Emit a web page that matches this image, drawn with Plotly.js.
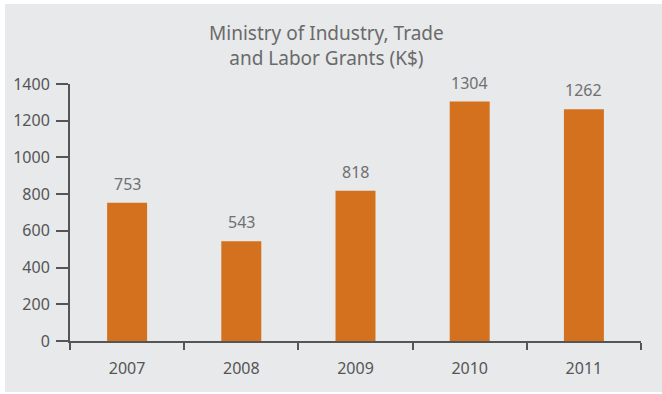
<!DOCTYPE html>
<html>
<head>
<meta charset="utf-8">
<script src="https://cdn.plot.ly/plotly-3.0.1.min.js"></script>
<style>
html,body{margin:0;padding:0;background:#ffffff;}
#chart{position:absolute;left:5px;top:4px;width:657px;height:388px;}
</style>
</head>
<body>
<div id="chart"></div>
<script>
const years = ["2007", "2008", "2009", "2010", "2011"];
const grants = [753, 543, 818, 1304, 1262];
const yTicks = [0, 200, 400, 600, 800, 1000, 1200, 1400];
const titleText = "Ministry of Industry, Trade<br>and Labor Grants (K$)";

const FONT = "Noto Sans, Open Sans, DejaVu Sans, sans-serif";

const trace = {
  type: "bar",
  x: years,
  y: grants,
  width: 0.35,
  marker: {color: "#d4711f", line: {width: 0}},
  hoverinfo: "skip"
};

const annotations = years.map((yr, i) => ({
  x: i, y: grants[i], xref: "x", yref: "y",
  text: String(grants[i]), showarrow: false,
  yanchor: "middle", yshift: 19,
  font: {family: FONT, size: 16, color: "#707070"}
}));

annotations.push({
  x: 0.45, y: 1.148, xref: "paper", yref: "paper",
  xanchor: "center", yanchor: "middle",
  text: titleText, showarrow: false,
  font: {family: FONT, size: 19, color: "#6a6a6a"}
});

const layout = {
  width: 657, height: 388,
  margin: {l: 65, r: 21, t: 80, b: 51},
  paper_bgcolor: "#e7e9eb",
  plot_bgcolor: "#e7e9eb",
  showlegend: false,
  xaxis: {
    type: "category",
    range: [-0.5, 4.5],
    showline: true, linecolor: "#555555", linewidth: 2,
    ticks: "outside", tickson: "boundaries", ticklen: 7, tickwidth: 2, tickcolor: "#555555",
    tickfont: {family: FONT, size: 16, color: "#555555"},
    ticklabelstandoff: 12,
    showgrid: false, zeroline: false, fixedrange: true
  },
  yaxis: {
    range: [0, 1400],
    tickvals: yTicks,
    ticktext: yTicks.map(String),
    showline: true, linecolor: "#555555", linewidth: 2,
    ticks: "outside", ticklen: 12, tickwidth: 2, tickcolor: "#555555",
    tickfont: {family: FONT, size: 16, color: "#555555"},
    ticklabelstandoff: 3,
    showgrid: false, zeroline: false, fixedrange: true
  },
  annotations: annotations,
  bargap: 0.65
};

Plotly.newPlot("chart", [trace], layout, {displayModeBar: false, staticPlot: true});
</script>
</body>
</html>
